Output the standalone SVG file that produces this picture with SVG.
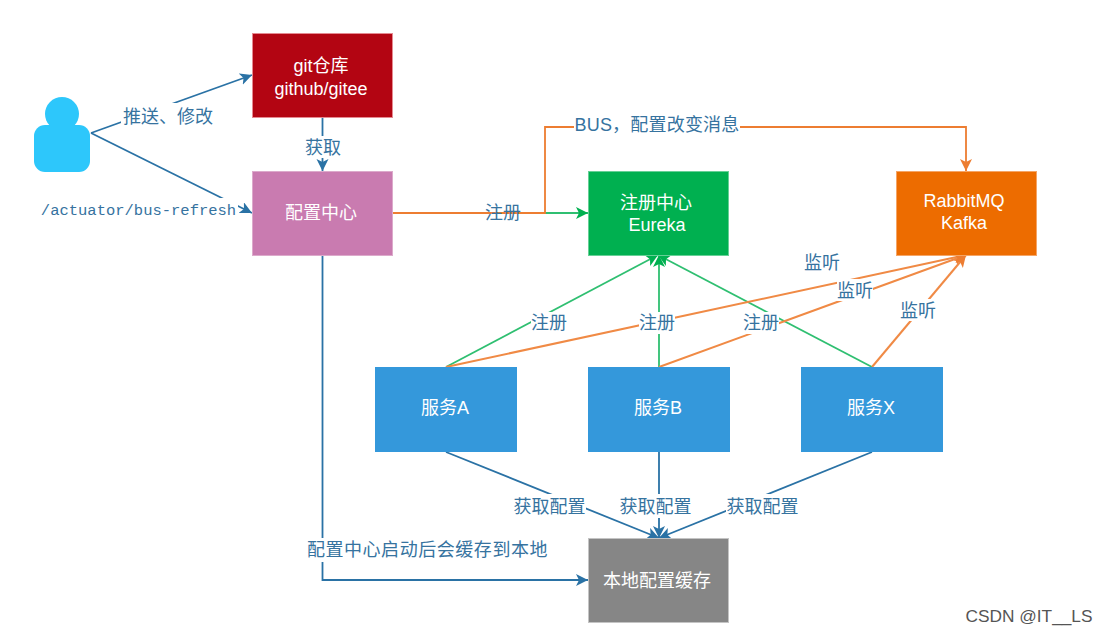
<svg xmlns="http://www.w3.org/2000/svg" width="1108" height="635" viewBox="0 0 1108 635">
<style>
.n{stroke-width:1}
.t{font-family:"Liberation Sans","Noto Sans CJK SC",sans-serif;font-size:18px;fill:#fff;text-anchor:middle}
.l{font-family:"Liberation Sans","Noto Sans CJK SC",sans-serif;font-size:18px;fill:#36739f;text-anchor:middle}
.m{font-family:"Liberation Mono","Noto Sans CJK SC",monospace;font-size:15.500px;fill:#36739f;text-anchor:middle}
.b{fill:none;stroke:#2a72a5;stroke-width:1.800}
.o{fill:none;stroke:#ed7d31;stroke-width:1.800}
.p{fill:none;stroke:#f08a45;stroke-width:2}
.g{fill:none;stroke:#2fbf71;stroke-width:1.800}
.bg{fill:#fff}
</style>
<defs>
<marker id="ab" markerUnits="userSpaceOnUse" markerWidth="14" markerHeight="14" refX="12" refY="6" orient="auto"><path d="M0 0L12 6L0 12L3 6Z" fill="#2a72a5"/></marker>
<marker id="ao" markerUnits="userSpaceOnUse" markerWidth="14" markerHeight="14" refX="12" refY="6" orient="auto"><path d="M0 0L12 6L0 12L3 6Z" fill="#ed7d31"/></marker>
<marker id="ag" markerUnits="userSpaceOnUse" markerWidth="14" markerHeight="14" refX="12" refY="6" orient="auto"><path d="M0 0L12 6L0 12L3 6Z" fill="#00b050"/></marker>
</defs>
<rect width="1108" height="635" fill="#fff"/>
<g id="connectors">
<path class="b" d="M91 133L252 75" marker-end="url(#ab)"/>
<path class="b" d="M91 133L252 213" marker-end="url(#ab)"/>
<path class="b" d="M322.500 117V171" marker-end="url(#ab)"/>
<path class="b" d="M322.500 255V580H588" marker-end="url(#ab)"/>
<path class="g" d="M545 213H588" marker-end="url(#ag)"/>
<path class="o" d="M393 213H545V127H966V171" marker-end="url(#ao)"/>
<path class="g" d="M446 367L658 255" marker-end="url(#ag)"/>
<path class="g" d="M659 367V255" marker-end="url(#ag)"/>
<path class="g" d="M872 367L658 255" marker-end="url(#ag)"/>
<path class="p" d="M446 367L966 255" marker-end="url(#ao)"/>
<path class="p" d="M659 367L966 255" marker-end="url(#ao)"/>
<path class="p" d="M872 367L966 255" marker-end="url(#ao)"/>
<path class="b" d="M446 452L659 538" marker-end="url(#ab)"/>
<path class="b" d="M659 452V538" marker-end="url(#ab)"/>
<path class="b" d="M872 452L659 538" marker-end="url(#ab)"/>
</g>
<g id="user"><circle cx="62" cy="114" r="17" fill="#2dc7fb"/><rect x="34" y="125" width="56" height="47" rx="11" fill="#2dc7fb"/></g>
<g id="git"><rect class="n" x="252.500" y="33.500" width="140" height="84" fill="#b30512" stroke="#e58a91"/><text class="t" x="321" y="72">git仓库</text><text class="t" x="321" y="95">github/gitee</text></g>
<g id="config"><rect class="n" x="252.500" y="171.500" width="140" height="84" fill="#c97bb0" stroke="#dcaacb"/><text class="t" x="321" y="219">配置中心</text></g>
<g id="eureka"><rect class="n" x="588.500" y="171.500" width="140" height="84" fill="#00b050" stroke="#66d096"/><text class="t" x="656" y="209">注册中心</text><text class="t" x="657" y="231">Eureka</text></g>
<g id="mq"><rect class="n" x="896.500" y="171.500" width="140" height="84" fill="#ed6c00" stroke="#f5a566"/><text class="t" x="964" y="207">RabbitMQ</text><text class="t" x="964" y="229">Kafka</text></g>
<g id="a"><rect x="375" y="367" width="142" height="85" fill="#3498db"/><text class="t" x="445" y="414">服务A</text></g>
<g id="b"><rect x="588" y="367" width="142" height="85" fill="#3498db"/><text class="t" x="658" y="414">服务B</text></g>
<g id="x"><rect x="801" y="367" width="142" height="85" fill="#3498db"/><text class="t" x="871" y="414">服务X</text></g>
<g id="cache"><rect class="n" x="588.500" y="538.500" width="140" height="84" fill="#868686" stroke="#c4c4c4"/><text class="t" x="657" y="587">本地配置缓存</text></g>
<g id="labels">
<rect class="bg" x="121" y="103" width="93" height="26"/><text class="l" x="168" y="123">推送、修改</text>
<rect class="bg" x="305" y="136" width="36" height="22"/><text class="l" x="323" y="154">获取</text>
<rect class="bg" x="40" y="198" width="198" height="24"/><text class="m" x="138.500" y="215">/actuator/bus-refresh</text>
<text class="l" x="503" y="219">注册</text>
<rect class="bg" x="574" y="114" width="166" height="24"/><text class="l" x="657" y="131" letter-spacing="0.200">BUS，配置改变消息</text>
<text class="l" x="822" y="269">监听</text>
<rect class="bg" x="837" y="279" width="36" height="22"/><text class="l" x="855" y="297">监听</text>
<rect class="bg" x="900" y="299" width="36" height="22"/><text class="l" x="918" y="317">监听</text>
<rect class="bg" x="531" y="312" width="36" height="22"/><text class="l" x="549" y="329">注册</text>
<rect class="bg" x="639" y="312" width="36" height="22"/><text class="l" x="657" y="329">注册</text>
<rect class="bg" x="743" y="312" width="36" height="22"/><text class="l" x="761" y="329">注册</text>
<rect class="bg" x="513" y="494" width="73" height="24"/><text class="l" x="549.500" y="513">获取配置</text>
<rect class="bg" x="619" y="494" width="73" height="24"/><text class="l" x="655.500" y="513">获取配置</text>
<rect class="bg" x="726" y="494" width="73" height="24"/><text class="l" x="762.500" y="513">获取配置</text>
<rect class="bg" x="306" y="538" width="244" height="24"/><text class="l" x="427.500" y="556" letter-spacing="0.550">配置中心启动后会缓存到本地</text>
<text x="1029" y="622" font-family="'Liberation Sans',sans-serif" font-size="17.300" fill="#555" text-anchor="middle">CSDN @IT__LS</text>
</g>
</svg>
